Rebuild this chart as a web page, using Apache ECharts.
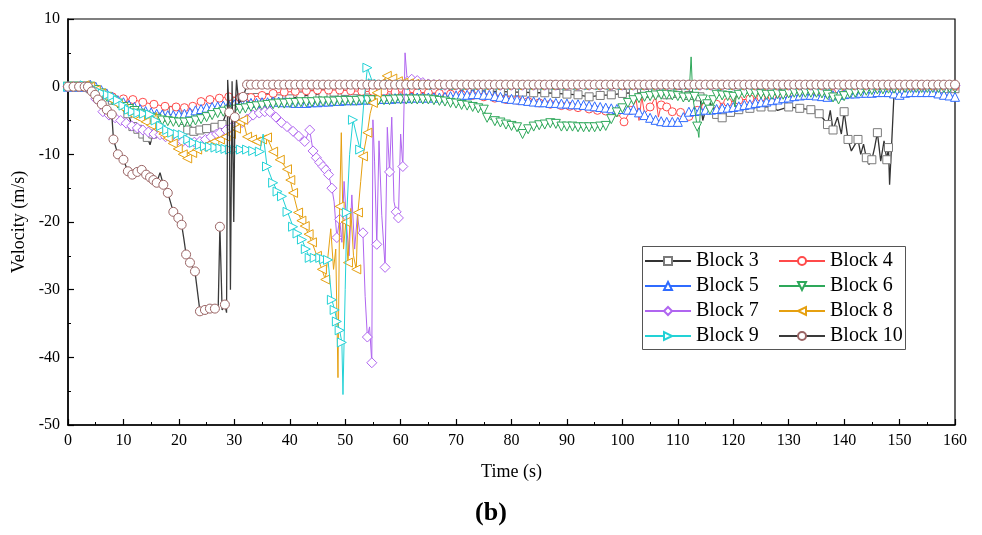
<!DOCTYPE html>
<html>
<head>
<meta charset="utf-8">
<script src="https://cdn.jsdelivr.net/npm/echarts@6/dist/echarts.min.js"></script>
<style>html,body{margin:0;padding:0;background:#fff;}#c{width:982px;height:535px;}</style>
</head>
<body>
<div id="c"></div>
<script>
// Data: [time (s), velocity (m/s)]; a third element 0 marks a point drawn without a marker
const seriesNames = ['Block 3','Block 4','Block 5','Block 6','Block 7','Block 8','Block 9','Block 10'];
const xTicks = [0,10,20,30,40,50,60,70,80,90,100,110,120,130,140,150,160];
const yTicks = [-50,-40,-30,-20,-10,0,10];

const block3 = [[0,0],[2,0],[4,-0.3],[6,-1.2],[8,-2],[9.9,-2.4],[10.8,-4],[11.7,-5.9],[12.6,-6.3],[13.5,-7],[14.3,-7.5],[14.8,-8.6,0],[15.3,-7],[16.2,-5.5],[17.1,-4.5],[18,-3.7],[19,-3.5],[19.7,-3.8],[20.6,-5],[21.6,-6.4],[22.7,-6.6],[23.8,-6.4],[25,-6.2],[26.5,-6],[27.8,-5.6],[28.5,-4,0],[29.5,-3],[30.5,-2.2],[32,-1.6],[34,-1.6],[36,-1.6],[38,-1.8],[40,-1.8],[42,-1.4],[44,-1.2],[46,-1],[48,-0.8],[50,-0.7],[52,-0.6],[54,-0.5],[56,-0.5],[58,-0.5],[60,-0.5],[62,-0.4],[64,-0.3],[66,-0.4],[68,-0.5],[70,-0.5],[72,-0.6],[74,-0.6],[76,-0.7],[78,-0.7],[80,-0.8],[82,-0.8],[84,-0.9],[86,-0.9],[88,-1],[90,-1.1],[92,-1.2],[94,-1.5],[96,-1.3],[98,-1.2],[100,-1],[102,-0.9],[104,-1],[106,-0.9],[108,-1.2],[110,-1],[112,-1.3],[114,-1.5],[114.5,-5,0],[115.5,-2,0],[117,-4.1],[118,-4.6],[119.5,-3.8],[121,-3.4],[123,-3.2],[125,-3],[127,-3],[128,-3.5,0],[130,-3],[132,-3.2],[134,-3.4],[135.5,-4],[136.5,-5,0],[137,-5.6],[137.5,-3.5,0],[138,-6.4],[138.8,-4.5,0],[139.5,-7,0],[140,-3.7],[140.7,-7.8],[141.3,-9.5,0],[142.5,-7.8],[143,-10,0],[143.5,-8.5,0],[144,-10.5],[144.5,-11.5,0],[145,-10.8],[145.5,-9,0],[146,-6.8],[146.6,-11,0],[147.2,-8,0],[147.7,-10.8],[148,-9],[148.2,-14.5,0],[148.6,-8,0],[149,-1],[150,-0.8],[152,-0.5],[154,-0.4],[156,-0.4],[158,-0.3],[160,-0.3]];

const block4 = [[0,0],[2,0],[4,-0.3],[6,-0.9],[8,-1.5],[10,-1.8],[11.7,-1.9],[13.5,-2.3],[15.5,-2.6],[17.5,-2.9],[19.5,-3],[21,-3.1],[22.5,-2.9],[24,-2.2],[25.6,-1.9],[27.3,-1.7],[29,-1.5],[31,-1.6],[33,-1.6],[35,-1.3],[37,-1],[39,-0.8],[41,-0.7],[43,-0.6],[45,-0.5],[47,-0.5],[49,-0.5],[51,-0.6],[53,-0.7],[55,-0.7],[57,-0.7],[59,-0.8],[61,-0.8],[63,-0.9],[65,-0.9],[67,-1],[69,-1.1],[71,-1.2],[73,-1.3],[75,-1.5],[77,-1.7],[79,-1.9],[81,-2],[83,-2.2],[85,-2.4],[87,-2.6],[89,-2.8],[90.5,-2.9],[92,-3.1],[94,-3.3],[95.5,-3.5],[97,-3.6],[99,-3.8],[100.3,-5.2],[101.5,-3.5],[102.5,-2,0],[103,-5,0],[103.5,-1.5,0],[104,-4,0],[105,-3],[106,-1.5,0],[106.5,-4.5,0],[107,-2.7],[108,-3],[109,-3.7],[110.5,-3.8],[112,-4.4],[113.5,-3.5],[115,-3],[117,-2.6],[119,-2.3],[121,-2],[123,-1.8],[125,-1.6],[127,-1.4],[129,-1.2],[131,-1],[133,-0.9],[135,-0.7],[137,-0.5],[139,-0.4],[141,-0.3],[143,-0.2],[145,0],[147,0],[149,0],[151,0],[153,0],[155,0],[157,0],[160,0]];

const block5 = [[0,0],[1,0],[2,0],[3,0],[4,0.3],[5,0],[6,-0.5],[7,-1],[8,-1.5],[9,-2],[10,-2.3],[11,-2.7],[12,-3],[13,-3.3],[14,-3.6],[15,-3.8],[16,-4],[17,-4.1],[18,-4.2],[19,-4.2],[20,-4.1],[21,-4],[22,-3.8],[23,-3.5],[24,-3.3],[25,-3.1],[26,-3],[27,-2.9],[28,-2.8],[29,-2.7],[30,-2.6],[31,-2.6],[32,-2.5],[33,-2.4],[34,-2.4],[35,-2.3],[36,-2.3],[37,-2.2],[38,-2.2],[39,-2.3],[40,-2.3],[41,-2.4],[42,-2.4],[43,-2.4],[44,-2.3],[45,-2.3],[46,-2.2],[47,-2.2],[48,-2.1],[49,-2.1],[50,-2],[51,-2],[52,-2],[53,-1.9],[54,-1.9],[55,-1.9],[56,-1.8],[57,-1.8],[58,-1.8],[59,-1.7],[60,-1.7],[61,-1.7],[62,-1.6],[63,-1.6],[64,-1.6],[65,-1.6],[66,-1.6],[67,-1.6],[68,-1.5],[69,-1.4],[70,-1.3],[71,-1.2],[72,-1.2],[73,-1.1],[74,-1.1],[75,-1.2],[76,-1.2],[77,-1.4],[78,-1.5],[79,-1.7],[80,-1.8],[81,-1.9],[82,-2],[83,-2.1],[84,-2.2],[85,-2.3],[86,-2.3],[87,-2.4],[88,-2.4],[89,-2.5],[90,-2.5],[91,-2.6],[92,-2.6],[93,-2.7],[94,-2.8],[95,-2.9],[96,-3],[97,-3.1],[98,-3.2],[99,-3.3],[100,-3.3],[101,-3.4],[102,-3.4],[103,-3.8],[104,-4.2],[105,-4.6],[106,-4.9],[107,-5.1],[108,-5.2],[109,-5.2],[110,-5.2],[111,-4.5],[112,-3.7],[113,-3.6],[114,-3.5],[115,-3.4],[116,-3.4],[117,-3.3],[118,-3.2],[119,-3.1],[120,-3],[121,-2.9],[122,-2.7],[123,-2.6],[124,-2.4],[125,-2.3],[126,-2.2],[127,-2],[128,-1.9],[129,-1.7],[130,-1.6],[131,-1.4],[132,-1.3],[133,-1.2],[134,-1.2],[135,-1.3],[136,-1.4],[137,-1.5],[138,-1.3],[139,-1.2],[140,-1.1],[141,-1],[142,-1],[143,-0.9],[144,-0.9],[145,-0.9],[146,-0.8],[147,-0.8],[148,-0.8],[149,-1],[150,-1.2],[151,-0.9],[152,-0.8],[153,-0.8],[154,-0.8],[155,-0.8],[156,-0.8],[157,-1],[158,-1.2],[159,-1.3],[160,-1.5]];

const block6 = [[0,0],[1,0],[2,0],[3,0],[4,0],[5,-0.5],[6,-1],[7,-1.5],[8,-2],[9,-2.5],[10,-3],[11,-3.3],[12,-3.6],[13,-4],[14,-4.3],[15,-4.6],[16,-4.8],[17,-5],[18,-5.1],[19,-5.2],[20,-5.3],[21,-5.3],[22,-5.2],[23,-5],[24,-4.8],[25,-4.5],[26,-4.2],[27,-3.9],[28,-3.7],[29,-3.5],[30,-3.4],[31,-3.3],[32,-3.2],[33,-3],[34,-2.9],[35,-2.8],[36,-2.7],[37,-2.6],[38,-2.5],[39,-2.5],[40,-2.4],[41,-2.4],[42,-2.3],[43,-2.3],[44,-2.3],[45,-2.2],[46,-2.2],[47,-2.2],[48,-2.2],[49,-2.1],[50,-2.1],[51,-2.1],[52,-2.1],[53,-2],[54,-2],[55,-2],[56,-2],[57,-2],[58,-2],[59,-1.9],[60,-1.9],[61,-1.9],[62,-1.9],[63,-1.9],[64,-1.9],[65,-1.9],[66,-2],[67,-2.1],[68,-2.2],[69,-2.4],[70,-2.5],[71,-2.7],[72,-2.8],[73,-3],[74,-3.2],[75,-3.4],[75.6,-4.6],[77,-5.1],[78,-5.3],[79,-5.6],[80,-5.8],[81,-6],[82,-7],[83,-6.3],[84,-5.9],[85,-5.7],[86,-5.6],[87,-5.4],[88,-5.5],[89,-5.9],[90,-5.9],[91,-5.9],[92,-6],[93,-6],[94,-6],[95,-6],[96,-5.9],[97,-5.8],[98,-4.8],[99,-3.8],[100,-3.2],[101,-2.4],[102,-2],[103,-1.7],[104,-1.5],[105,-1.4],[106,-1.3],[107,-1.2],[108,-1.2],[109,-1.3],[110,-1.4],[111,-1.6],[112,-1.6],[112.4,4.4,0],[112.7,-1.5,0],[113,-1.5],[113.5,-5.9],[113.8,-7.5,0],[114.1,-3,0],[114.5,-1.9],[115.3,-2.6],[115.8,-3.4],[116.4,-2],[117,-1.2],[118,-1.3],[119,-1.4],[120,-1.5],[120.3,-3,0],[120.6,-1,0],[121,-1.2],[122,-1],[123,-0.9],[124,-1],[125,-1.1],[126,-1.2],[127,-1.2],[128,-1.1],[129,-1.2],[130,-1],[131,-0.9],[132,-0.9],[133,-0.9],[134,-0.9],[135,-0.9],[136,-1],[137,-1.2],[138,-1.6],[139,-1.9],[140,-1.4],[141,-1],[142,-0.9],[143,-0.7],[144,-0.6],[145,-0.5],[146,-0.4],[147,-0.4],[148,-0.3],[149,-0.3],[150,-0.2],[151,-0.2],[152,-0.2],[153,-0.2],[154,-0.2],[155,-0.2],[156,-0.2],[157,-0.2],[158,-0.2],[159,-0.2],[160,-0.2]];

const block7 = [[0,0],[1,0],[2,0],[3,0],[4,-0.5],[5,-1.8],[6.3,-3.7],[7.4,-4.2],[8.5,-4.6],[9.5,-5],[10.5,-5.4],[11.5,-5.8],[12.5,-6.1],[13.5,-6.4],[14.5,-6.7],[15.5,-7],[16.6,-7.1],[17.6,-7.4],[18.7,-7.7],[19.7,-8],[20.7,-8.1],[21.7,-8.2],[22.8,-8.2],[23.8,-8.1],[24.8,-7.8],[25.8,-7.4],[26.8,-7],[27.4,-6.8],[28.5,-6.4],[29.5,-6],[30.5,-5.6],[31.4,-5.3],[32.3,-4.8],[33.4,-4.2],[34.5,-3.9],[35.5,-3.7],[36.4,-3.7],[37.5,-4.5],[38.5,-5.3],[39.5,-5.9],[40.6,-6.6],[41.6,-7.3],[42.7,-8.1],[43.6,-6.4],[44.2,-9.5],[44.8,-10.5],[45.4,-11.2],[46,-11.8],[46.5,-12.3],[47,-13],[47.6,-15],[48,-17,0],[48.5,-22.3],[49,-19.6],[49.4,-23,0],[49.8,-14,0],[50.3,-21,0],[50.7,-25,0],[51.2,-16,0],[51.7,-24,0],[52.2,-19,0],[52.7,-22,0],[53.2,-21.6],[53.6,-31,0],[54,-37],[54.4,-35.5,0],[54.8,-40.8],[55,-4.9,0],[55.3,-11,0],[55.7,-23.3],[56.1,-8,0],[56.6,-19,0],[57.2,-26.7],[57.6,-6,0],[58,-12.6],[58.4,-4.5,0],[58.8,-17,0],[59.2,-18.5],[59.6,-19.4],[60,-7,0],[60.4,-11.8],[60.8,5,0],[61.2,0.8],[62,1.1],[63,0.9],[64,0.6],[65,0.4],[66,0.3],[67,0.3],[68,0.2],[70,0.2],[72,0.2],[74,0.2],[76,0.2],[78,0.2],[80,0.2],[82,0.2],[84,0.2],[86,0.2],[88,0.2],[90,0.2],[92,0.2],[94,0.2],[96,0.2],[98,0.2],[100,0.2],[102,0.2],[104,0.2],[106,0.2],[108,0.2],[110,0.2],[112,0.2],[114,0.2],[116,0.2],[118,0.2],[120,0.2],[122,0.2],[124,0.2],[126,0.2],[128,0.2],[130,0.2],[132,0.2],[134,0.2],[136,0.2],[138,0.2],[140,0.2],[142,0.2],[144,0.2],[146,0.2],[148,0.2],[150,0.2],[152,0.2],[154,0.2],[156,0.2],[158,0.2],[160,0.2]];

const block8 = [[0,0],[1,0],[2,0],[3,0.2],[4,0],[5,-0.5],[6,-1],[7,-1.5],[8,-2],[9,-2.6],[10,-3.2],[11,-3.8],[12,-4.3],[13,-4.7],[14,-5.2],[15,-5.7],[16,-3.8,0],[16.3,-6.3],[17.2,-7],[18,-7.6],[18.9,-8.4],[19.8,-9.2],[20.7,-10],[21.5,-10.6],[22.4,-9.8],[23.3,-9.3],[24.3,-8.9],[25.4,-8.5],[26.4,-8.1],[27.4,-7.8],[28.4,-7.4],[29.4,-7],[30.3,-6.2],[31,-5.2],[31.6,-4.9],[32.3,-7.4],[33.2,-7.8],[34,-8.1],[35,-7.8],[35.9,-7.5],[37,-9.6],[38.2,-10.8],[39.5,-12.2],[40.1,-13.8],[40.6,-15.7],[41.5,-18.6],[42.1,-19.8],[42.7,-20.6],[43.4,-21.8],[44,-23],[44.9,-25],[45.8,-27],[46.4,-28.5],[46.9,-25,0],[47.4,-21,0],[47.9,-27,0],[48.3,-24,0],[48.7,-43,0],[49,-17.7],[49.3,-6.8,0],[49.7,-24,0],[50.1,-20],[50.5,-26],[51,-18,0],[51.5,-25,0],[52,-27],[52.3,-18.6],[52.8,-14,0],[53.2,-10.3],[54,-6.8],[54.5,-4,0],[55,-2.4],[55.7,-0.9],[56.5,0.5],[57.5,1.6],[58.5,1.2],[59.5,0.8],[60.5,0.6],[61.5,0.5],[62.5,0.4],[64,0.3],[66,0.3],[69,0.2],[71,0.2],[73,0.2],[75,0.2],[77,0.2],[79,0.2],[81,0.2],[83,0.2],[85,0.2],[87,0.2],[89,0.2],[91,0.2],[93,0.2],[95,0.2],[97,0.2],[99,0.2],[101,0.2],[103,0.2],[105,0.2],[107,0.2],[109,0.2],[111,0.2],[113,0.2],[115,0.2],[117,0.2],[119,0.2],[121,0.2],[123,0.2],[125,0.2],[127,0.2],[129,0.2],[131,0.2],[133,0.2],[135,0.2],[137,0.2],[139,0.2],[141,0.2],[143,0.2],[145,0.2],[147,0.2],[149,0.2],[151,0.2],[153,0.2],[155,0.2],[157,0.2],[159,0.2]];

const block9 = [[0,0],[1,0],[2,0],[3,0.2],[4,0],[5,-0.5],[6.3,-1],[7.2,-1.2],[8,-1.4],[9,-2],[10,-2.8],[11,-3.4],[11.7,-3.7],[12.7,-3.9],[13.7,-4],[14.8,-4.1],[15.8,-5],[16.8,-5.8],[17.9,-6.4],[18.8,-6.8],[19.8,-7],[20.7,-7.1],[21.7,-7.8],[22.7,-8.3],[23.8,-8.6],[24.7,-8.8],[25.6,-8.9],[26.6,-9],[27.5,-9.1],[28.4,-9.2],[29.2,-9.3],[30.2,-9.3],[31.2,-9.3],[32.3,-9.3],[33.4,-9.5],[34.6,-9.6],[35.2,-7,0],[35.9,-11.8],[37,-14.2],[37.8,-15.5],[38.6,-16.2],[39.6,-18.5],[40.6,-20.7],[41.4,-21.7],[42.2,-22.6],[42.9,-24],[43.6,-25.3],[44.5,-25.3],[45.5,-25.3],[46.2,-25.5],[46.9,-25.6],[47.3,-29,0],[47.6,-31.5],[48.1,-33],[48.5,-34.7],[49,-36],[49.4,-37.8],[49.6,-45.5,0],[50,-30,0],[50.3,-18.6],[50.8,-10,0],[51.4,-4.9],[52,-7,0],[52.7,-9.3],[53.3,-3,0],[54,2.8],[55,0.5],[56,0.4],[57,0.3],[58,0.3],[60,0.3],[62,0.2],[64,0.2],[66,0.2],[68,0.2],[70,0.2],[72,0.2],[74,0.2],[76,0.2],[78,0.2],[80,0.2],[82,0.2],[84,0.2],[86,0.2],[88,0.2],[90,0.2],[92,0.2],[94,0.2],[96,0.2],[98,0.2],[100,0.2],[102,0.2],[104,0.2],[106,0.2],[108,0.2],[110,0.2],[112,0.2],[114,0.2],[116,0.2],[118,0.2],[120,0.2],[122,0.2],[124,0.2],[126,0.2],[128,0.2],[130,0.2],[132,0.2],[134,0.2],[136,0.2],[138,0.2],[140,0.2],[142,0.2],[144,0.2],[146,0.2],[148,0.2],[150,0.2],[152,0.2],[154,0.2],[156,0.2],[158,0.2],[160,0.2]];

const block10 = [[0,0],[1,0],[2,0],[3,0],[3.6,0],[4.3,-0.7],[4.9,-1.2],[5.4,-1.9],[6.1,-2.6],[7,-3.4],[7.9,-4.1],[8.2,-7.8],[9,-10],[10,-10.8],[10.8,-12.5],[11.6,-13],[12.5,-12.6],[13.3,-12.3],[14.1,-13],[14.8,-13.4],[15.4,-13.8],[16,-14.2],[16.6,-12.7,0],[17.2,-14.5],[18,-15.7],[19,-18.5],[19.9,-19.4],[20.5,-20.4],[20.9,-22.5,0],[21.3,-24.8],[22,-26],[22.9,-27.3],[23.8,-33.2],[24.7,-33],[25.6,-32.8],[26.5,-32.8],[27.1,-32.5,0],[27.4,-20.7],[27.8,-33,0],[28.3,-32.2],[28.6,-33.4,0],[28.8,1,0],[29.1,-3.8],[29.3,-30,0],[29.6,0.8,0],[29.9,-20,0],[30.1,-4.5],[30.4,1,0],[30.8,-2.5,0],[31.6,-1.5],[32.3,0.3],[33,0.3],[34,0.3],[35,0.3],[36,0.3],[37,0.3],[38,0.3],[39,0.3],[40,0.3],[41,0.3],[42,0.3],[43,0.3],[44,0.3],[45,0.3],[46,0.3],[47,0.3],[48,0.3],[49,0.3],[50,0.3],[51,0.3],[52,0.3],[53,0.3],[54,0.3],[55,0.3],[56,0.3],[57,0.3],[58,0.3],[59,0.3],[60,0.3],[61,0.3],[62,0.3],[63,0.3],[64,0.3],[65,0.3],[66,0.3],[67,0.3],[68,0.3],[69,0.3],[70,0.3],[71,0.3],[72,0.3],[73,0.3],[74,0.3],[75,0.3],[76,0.3],[77,0.3],[78,0.3],[79,0.3],[80,0.3],[81,0.3],[82,0.3],[83,0.3],[84,0.3],[85,0.3],[86,0.3],[87,0.3],[88,0.3],[89,0.3],[90,0.3],[91,0.3],[92,0.3],[93,0.3],[94,0.3],[95,0.3],[96,0.3],[97,0.3],[98,0.3],[99,0.3],[100,0.3],[101,0.3],[102,0.3],[103,0.3],[104,0.3],[105,0.3],[106,0.3],[107,0.3],[108,0.3],[109,0.3],[110,0.3],[111,0.3],[112,0.3],[113,0.3],[114,0.3],[115,0.3],[116,0.3],[117,0.3],[118,0.3],[119,0.3],[120,0.3],[121,0.3],[122,0.3],[123,0.3],[124,0.3],[125,0.3],[126,0.3],[127,0.3],[128,0.3],[129,0.3],[130,0.3],[131,0.3],[132,0.3],[133,0.3],[134,0.3],[135,0.3],[136,0.3],[137,0.3],[138,0.3],[139,0.3],[140,0.3],[141,0.3],[142,0.3],[143,0.3],[144,0.3],[145,0.3],[146,0.3],[147,0.3],[148,0.3],[149,0.3],[150,0.3],[151,0.3],[152,0.3],[153,0.3],[154,0.3],[155,0.3],[156,0.3],[157,0.3],[158,0.3],[159,0.3],[160,0.3]];

const allData = [block3, block4, block5, block6, block7, block8, block9, block10];

// styles
const lineColors = ['#333333','#ff4a4a','#2f6bff','#2ea85a','#b065f0','#e6a010','#22d2d6','#3a3a3a'];
const markColors = ['#7a7a7a','#ff4a4a','#2f6bff','#2ea85a','#b065f0','#e6a010','#22d2d6','#9a6464'];
const symbols = ['rect','circle','triangle','triangle','diamond','triangle','triangle','circle'];
const rotates = [0,0,0,180,0,90,-90,0];
const sizes = [8,8,9,9,10,9,9,9];
const lineWidths = [1.3,1,1,1,1,1,1,1.3];

const FONT = "'Liberation Serif','Times New Roman',serif";

function toData(pts){
  return pts.map(p => p.length > 2 ? {value:[p[0],p[1]], symbol:'none'} : [p[0],p[1]]);
}

const series = seriesNames.map((name,i) => ({
  name: name,
  type: 'line',
  data: toData(allData[i]),
  symbol: symbols[i],
  symbolSize: sizes[i],
  symbolRotate: rotates[i],
  showSymbol: true,
  showAllSymbol: true,
  clip: true,
  lineStyle: {color: lineColors[i], width: lineWidths[i]},
  itemStyle: {color: '#ffffff', borderColor: markColors[i], borderWidth: 1},
  emphasis: {disabled: true},
  z: 2 + i
}));

const legendCommon = {
  orient: 'vertical',
  top: 251,
  padding: 0,
  itemGap: 5,
  itemWidth: 46,
  itemHeight: 10,
  textStyle: {fontFamily: FONT, fontSize: 20, color: '#000'},
  selectedMode: false
};

const chart = echarts.init(document.getElementById('c'), null, {renderer: 'canvas'});
chart.setOption({
  animation: false,
  backgroundColor: '#ffffff',
  title: {text: '(b)', left: 'center', top: 500, padding: 0,
    textStyle: {fontFamily: FONT, fontSize: 26, fontWeight: 'bold', color: '#000'}},
  grid: {left: 68, right: 27, top: 19, bottom: 110, show: true, borderColor: '#000', borderWidth: 1.2, backgroundColor: 'transparent'},
  legend: [
    Object.assign({}, legendCommon, {left: 644, data: ['Block 3','Block 5','Block 7','Block 9']}),
    Object.assign({}, legendCommon, {left: 778, data: ['Block 4','Block 6','Block 8','Block 10']})
  ],
  graphic: [{type: 'rect', left: 642, top: 246, shape: {width: 263, height: 103},
    style: {fill: 'rgba(0,0,0,0)', stroke: '#555', lineWidth: 1}, z: 100}],
  xAxis: {
    type: 'value', min: xTicks[0], max: xTicks[xTicks.length-1], interval: 10,
    name: 'Time (s)', nameLocation: 'middle', nameGap: 38,
    nameTextStyle: {fontFamily: FONT, fontSize: 18, color: '#000'},
    axisLine: {show: true, onZero: false, lineStyle: {color: '#000', width: 1.5}},
    axisTick: {show: true, inside: true, length: 6, lineStyle: {color: '#000', width: 1.2}},
    minorTick: {show: true, splitNumber: 2, length: 3, lineStyle: {color: '#000', width: 1}},
    axisLabel: {fontFamily: FONT, fontSize: 16, color: '#000', margin: 8},
    splitLine: {show: false}, minorSplitLine: {show: false}
  },
  yAxis: {
    type: 'value', min: yTicks[0], max: yTicks[yTicks.length-1], interval: 10,
    name: 'Velocity (m/s)', nameLocation: 'middle', nameGap: 37,
    nameTextStyle: {fontFamily: FONT, fontSize: 18, color: '#000'},
    axisLine: {show: true, onZero: false, lineStyle: {color: '#000', width: 1.5}},
    axisTick: {show: true, inside: true, length: 6, lineStyle: {color: '#000', width: 1.2}},
    minorTick: {show: true, splitNumber: 2, length: 3, lineStyle: {color: '#000', width: 1}},
    axisLabel: {fontFamily: FONT, fontSize: 16, color: '#000', margin: 8},
    splitLine: {show: false}, minorSplitLine: {show: false}
  },
  series: series
});
</script>
</body>
</html>
